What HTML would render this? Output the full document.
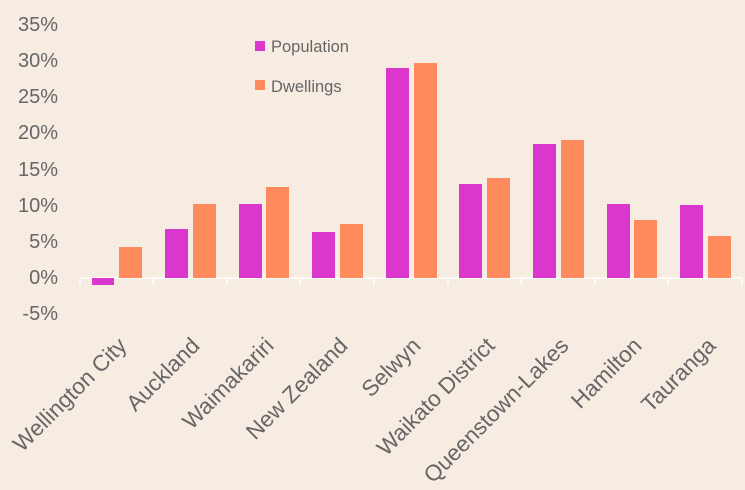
<!DOCTYPE html>
<html><head><style>body{margin:0;background:#f6ece1}</style></head><body>
<svg width="745" height="485" xmlns="http://www.w3.org/2000/svg" font-family="Liberation Sans, sans-serif" fill="#666">
<rect width="745" height="485" fill="#f6ece1"/>
<g font-size="20" text-anchor="end">
<text x="58" y="31">35%</text><text x="58" y="67">30%</text><text x="58" y="103">25%</text>
<text x="58" y="139">20%</text><text x="58" y="176">15%</text><text x="58" y="212">10%</text>
<text x="58" y="248">5%</text><text x="58" y="284">0%</text><text x="58" y="320">-5%</text>
</g>
<g stroke="#fff" stroke-width="1.5">
<line x1="80" y1="278" x2="742" y2="278"/>
<line x1="80" y1="278" x2="80" y2="285"/><line x1="153" y1="278" x2="153" y2="285"/>
<line x1="227" y1="278" x2="227" y2="285"/><line x1="300" y1="278" x2="300" y2="285"/>
<line x1="374" y1="278" x2="374" y2="285"/><line x1="448" y1="278" x2="448" y2="285"/>
<line x1="521" y1="278" x2="521" y2="285"/><line x1="595" y1="278" x2="595" y2="285"/>
<line x1="668" y1="278" x2="668" y2="285"/><line x1="742" y1="278" x2="742" y2="285"/>
</g>
<g fill="#dc37cc">
<rect x="92" y="278" width="22" height="7"/>
<rect x="165" y="229" width="23" height="49"/>
<rect x="239" y="204" width="23" height="74"/>
<rect x="312" y="232" width="23" height="46"/>
<rect x="386" y="68" width="23" height="210"/>
<rect x="459" y="184" width="23" height="94"/>
<rect x="533" y="144" width="23" height="134"/>
<rect x="607" y="204" width="23" height="74"/>
<rect x="680" y="205" width="23" height="73"/>
</g>
<g fill="#ff8a5e">
<rect x="119" y="247" width="23" height="31"/>
<rect x="193" y="204" width="23" height="74"/>
<rect x="266" y="187" width="23" height="91"/>
<rect x="340" y="224" width="23" height="54"/>
<rect x="414" y="63" width="23" height="215"/>
<rect x="487" y="178" width="23" height="100"/>
<rect x="561" y="140" width="23" height="138"/>
<rect x="634" y="220" width="23" height="58"/>
<rect x="708" y="236" width="23" height="42"/>
</g>
<rect x="255" y="41" width="10" height="10" fill="#dc37cc"/>
<text x="271" y="52" font-size="16.5">Population</text>
<rect x="255" y="80" width="10" height="10" fill="#ff8a5e"/>
<text x="271" y="92" font-size="16.5">Dwellings</text>
<g font-size="22.5" text-anchor="end">
<text transform="translate(128,347) rotate(-45)">Wellington City</text>
<text transform="translate(201,347) rotate(-45)">Auckland</text>
<text transform="translate(275,347) rotate(-45)">Waimakariri</text>
<text transform="translate(349,347) rotate(-45)">New Zealand</text>
<text transform="translate(422,347) rotate(-45)">Selwyn</text>
<text transform="translate(496,347) rotate(-45)">Waikato District</text>
<text transform="translate(570,347) rotate(-45)">Queenstown-Lakes</text>
<text transform="translate(643,347) rotate(-45)">Hamilton</text>
<text transform="translate(717,347) rotate(-45)">Tauranga</text>
</g>
</svg>
</body></html>
